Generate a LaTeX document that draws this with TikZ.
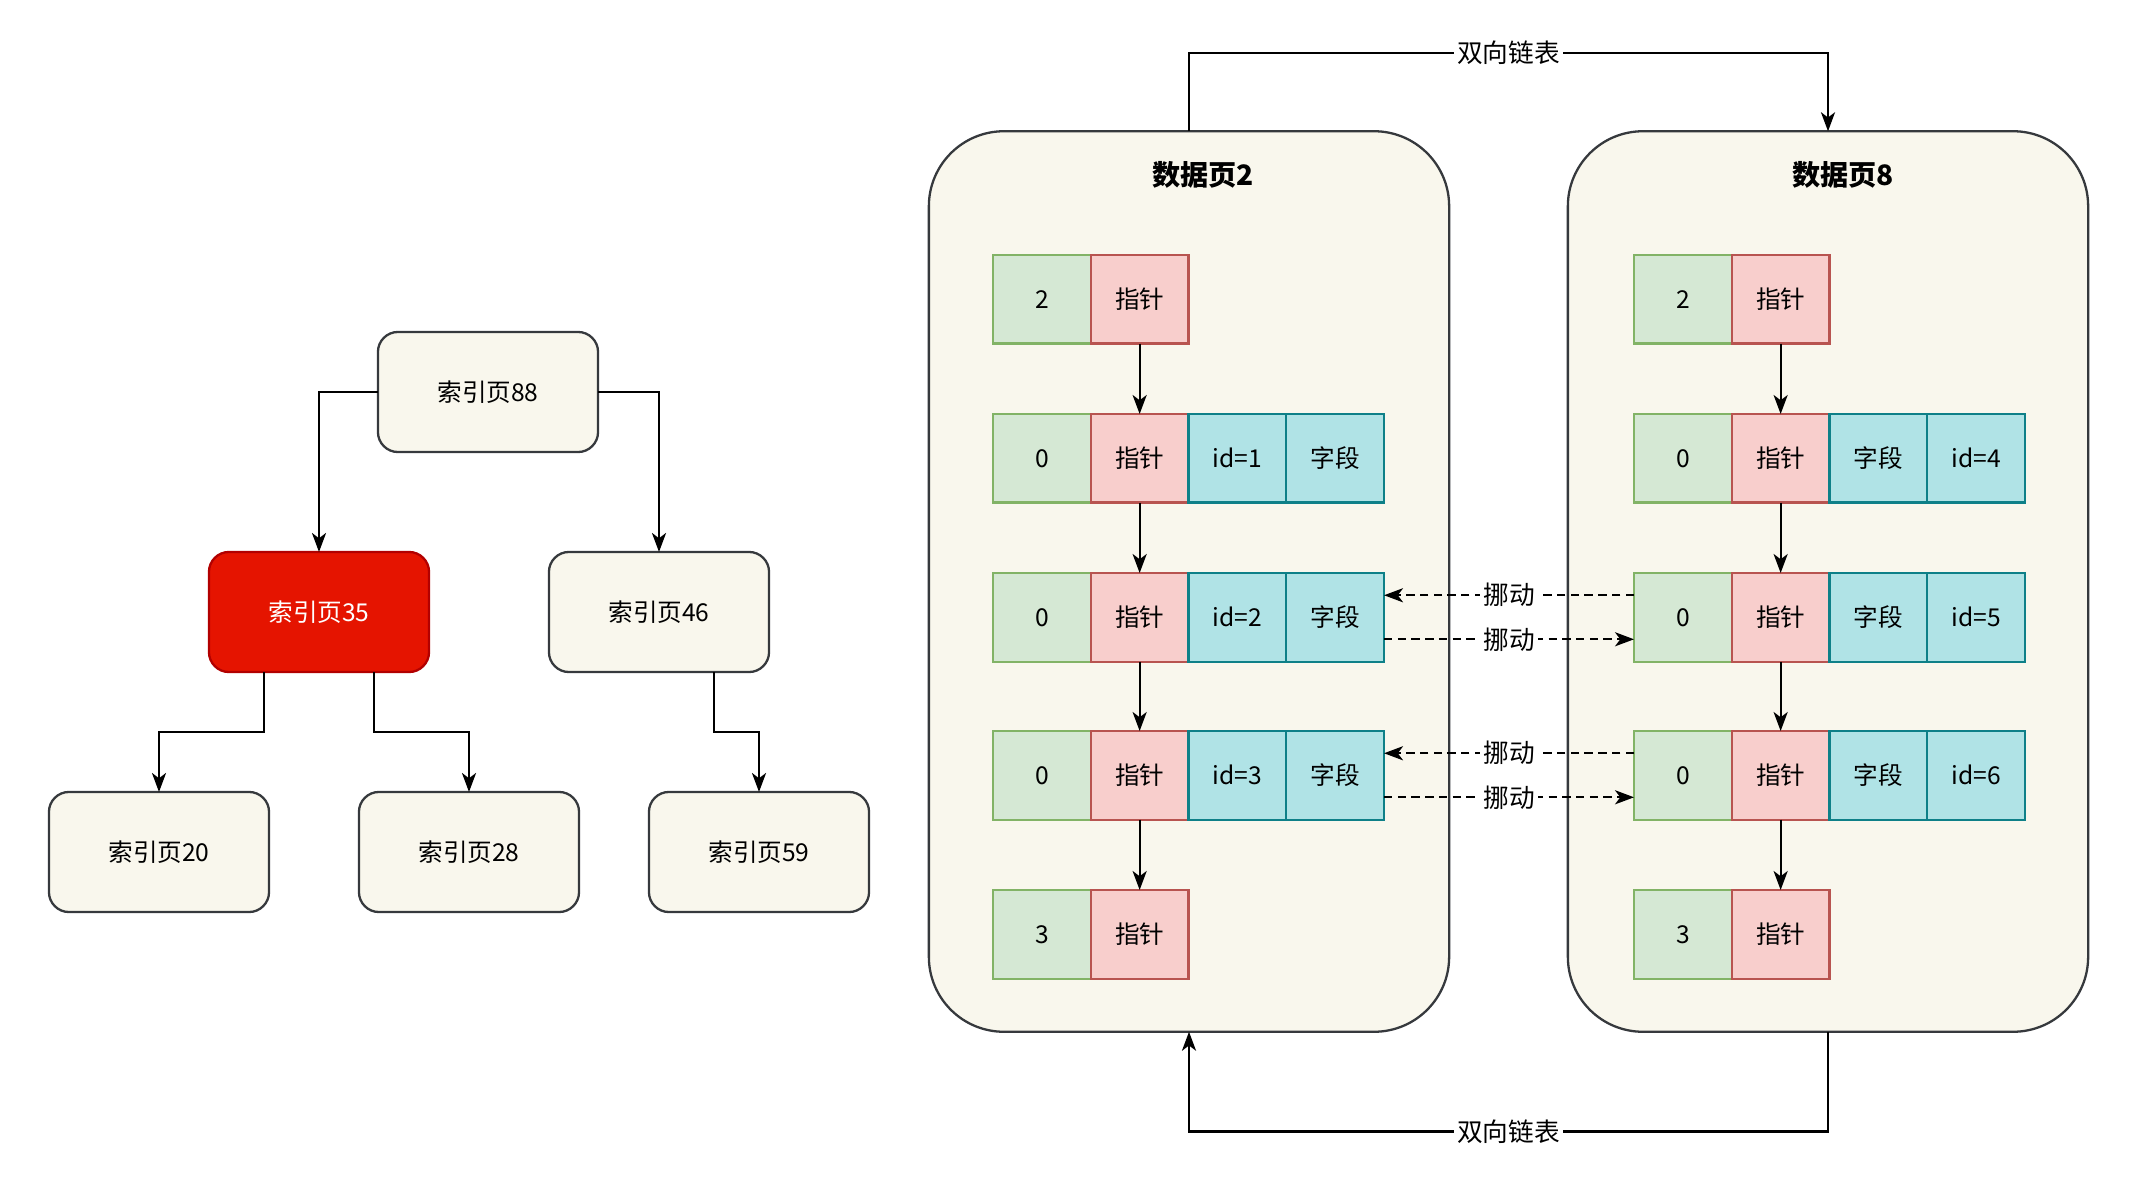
\documentclass[tikz,border=0pt]{standalone}
\usepackage{fontspec}
\setmainfont{Noto Sans CJK SC}
\usetikzlibrary{arrows.meta}

\definecolor{pagefill}{HTML}{F9F7ED}
\definecolor{pageline}{HTML}{36393D}
\definecolor{hotfill}{HTML}{E51400}
\definecolor{hotline}{HTML}{B20000}
\definecolor{numfill}{HTML}{D5E8D4}
\definecolor{numline}{HTML}{82B366}
\definecolor{ptrfill}{HTML}{F8CECC}
\definecolor{ptrline}{HTML}{B85450}
\definecolor{datfill}{HTML}{B0E3E6}
\definecolor{datline}{HTML}{0E8088}

\tikzset{
  every node/.style={font=\fontsize{7}{8}\selectfont, outer sep=0pt},
  idx/.style={draw=pageline, fill=pagefill, rounded corners=0.2cm,
    minimum width=2.2cm, minimum height=1.2cm, line width=0.65pt},
  hot/.style={idx, draw=hotline, fill=hotfill, text=white},
  datapage/.style={draw=pageline, fill=pagefill, rounded corners=0.75cm,
    minimum width=5.2cm, minimum height=9cm, line width=0.65pt},
  pagetitle/.style={font=\fontsize{8}{9}\selectfont\bfseries},
  cell/.style={anchor=north west, minimum width=0.977cm, minimum height=0.885cm,
    line width=0.6pt, inner sep=0pt},
  num/.style={cell, draw=numline, fill=numfill},
  ptr/.style={cell, draw=ptrline, fill=ptrfill},
  dat/.style={cell, draw=datline, fill=datfill},
  link/.style={line width=0.65pt, -{Stealth[length=5.4pt,width=4pt,inset=1.5pt]}},
  move/.style={link, dash pattern=on 2.4pt off 1.5pt},
  lbl/.style={fill=white, inner sep=1pt, font=\fontsize{7.3}{8}\selectfont},
}

\begin{document}
\begin{tikzpicture}[x=0.01cm, y=-0.01cm]
  \useasboundingbox (0,0) rectangle (2130,1182);

  % left: index tree
  \node[idx] (i88) at (488,392) {索引页88};
  \node[hot] (i35) at (319,612) {索引页35};
  \node[idx] (i46) at (659,612) {索引页46};
  \node[idx] (i20) at (159,852) {索引页20};
  \node[idx] (i28) at (469,852) {索引页28};
  \node[idx] (i59) at (759,852) {索引页59};
  \draw[link] (i88.west) -| (i35.north);
  \draw[link] (i88.east) -| (i46.north);
  \draw[link] ([xshift=-0.55cm]i35.south) -- ++(0,60) -| (i20.north);
  \draw[link] ([xshift=0.55cm]i35.south) -- ++(0,60) -| (i28.north);
  \draw[link] ([xshift=0.55cm]i46.south) -- ++(0,60) -| (i59.north);

  % right: two data pages
  \node[datapage] (pg2) at (1189,581.5) {};
  \node[datapage] (pg8) at (1828,581.5) {};
  \node[pagetitle] (t2) at (1203,175) {数据页2};
  \node[pagetitle] (t8) at (1843,175) {数据页8};

  % page 2 records
  \foreach \r/\y/\n in {1/255/2, 2/414/0, 3/573/0, 4/731/0, 5/890/3} {
    \node[num] (a\r-n) at (993,\y) {\n};
    \node[ptr] (a\r-p) at (a\r-n.north east) {指针};
  }
  \foreach \r in {2,3,4} {
    \pgfmathtruncatemacro{\k}{\r-1}
    \node[dat] (a\r-i) at (a\r-p.north east) {id=\k};
    \node[dat] (a\r-f) at (a\r-i.north east) {字段};
  }
  % page 8 records
  \foreach \r/\y/\n in {1/255/2, 2/414/0, 3/573/0, 4/731/0, 5/890/3} {
    \node[num] (b\r-n) at (1634,\y) {\n};
    \node[ptr] (b\r-p) at (b\r-n.north east) {指针};
  }
  \foreach \r in {2,3,4} {
    \pgfmathtruncatemacro{\k}{\r+2}
    \node[dat] (b\r-f) at (b\r-p.north east) {字段};
    \node[dat] (b\r-i) at (b\r-f.north east) {id=\k};
  }
  \foreach \r/\s in {1/2, 2/3, 3/4, 4/5} {
    \draw[link] (a\r-p) -- (a\s-p);
    \draw[link] (b\r-p) -- (b\s-p);
  }

  % records moved between the pages
  \foreach \r in {3,4} {
    \draw[move] ([yshift=0.22cm]b\r-n.west) -- node[lbl] {挪动} ([yshift=0.22cm]a\r-f.east);
    \draw[move] ([yshift=-0.22cm]a\r-f.east) -- node[lbl] {挪动} ([yshift=-0.22cm]b\r-n.west);
  }

  % double linked list
  \coordinate (upper) at (1189,53);
  \coordinate (lower) at (1828,1131.5);
  \draw[link] (pg2.north) -- (upper) -| node[pos=0.25, lbl] {双向链表} (pg8.north);
  \draw[link] (pg8.south) -- (lower) -| node[pos=0.25, lbl] {双向链表} (pg2.south);
\end{tikzpicture}
\end{document}
